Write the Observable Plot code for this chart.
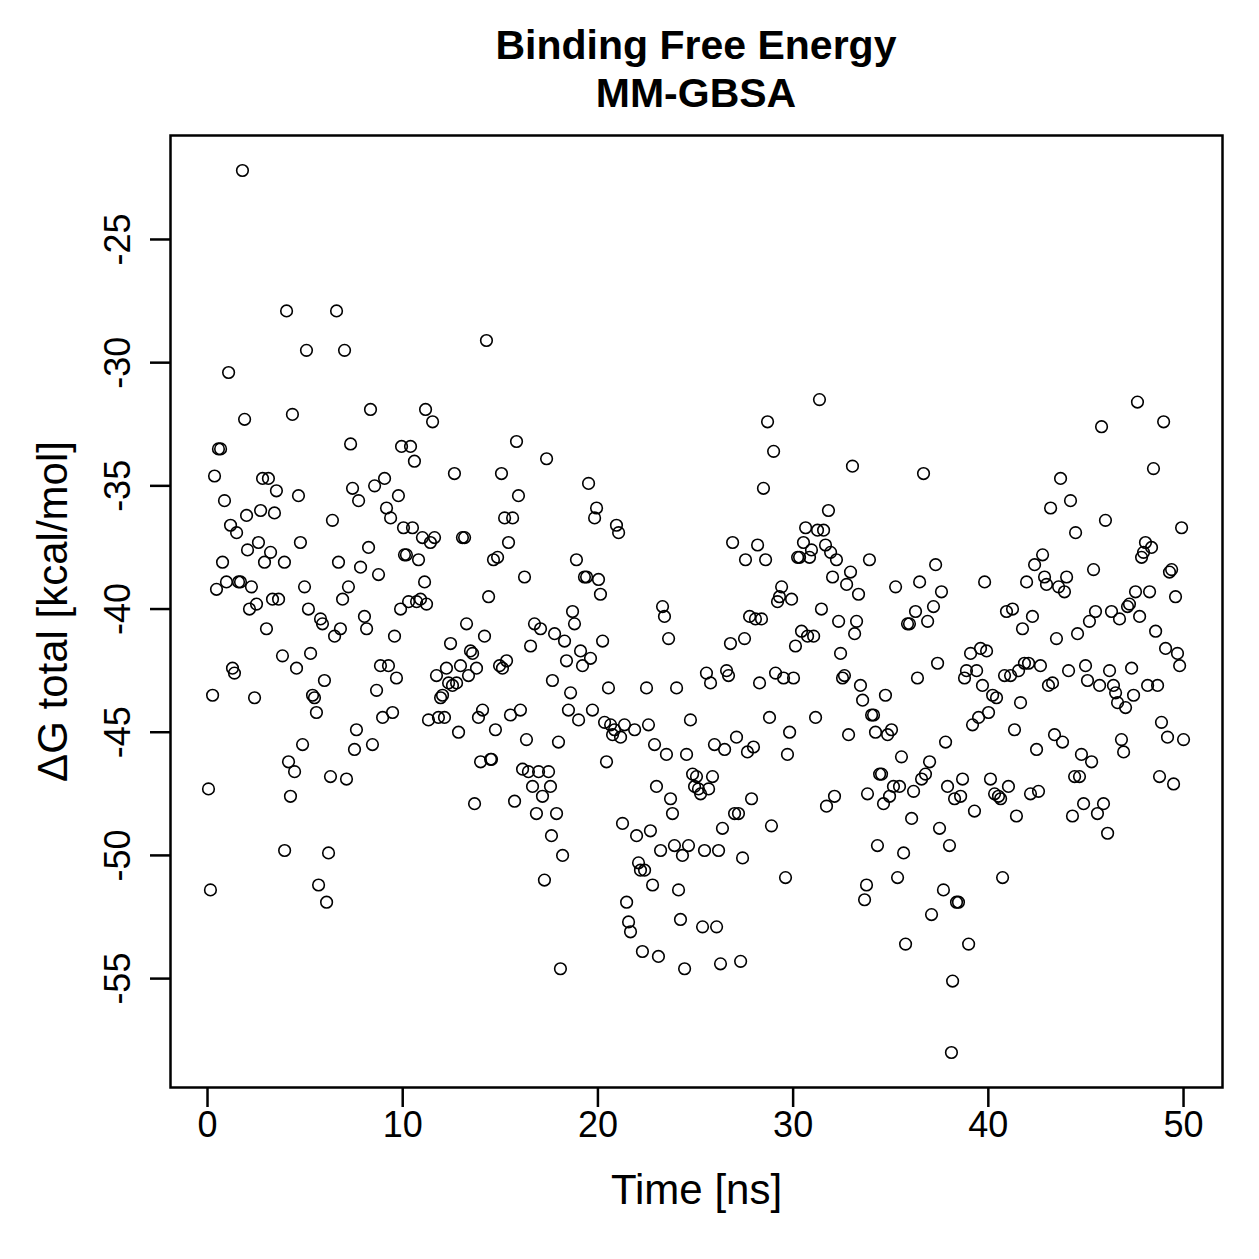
<!DOCTYPE html>
<html><head><meta charset="utf-8">
<script src="https://cdn.jsdelivr.net/npm/d3@7"></script>
<script src="https://cdn.jsdelivr.net/npm/@observablehq/plot@0.6"></script>
<style>
body{margin:0;background:#fff;font-family:"Liberation Sans",Arial,Helvetica,sans-serif;}
#title{width:1052px;margin-left:170px;height:120px;box-sizing:border-box;padding-top:21px;text-align:center;font-weight:bold;font-size:41px;line-height:48px;color:#000;}
</style></head>
<body>
<div id="title">Binding Free Energy<br>MM-GBSA</div>
<div id="chart"></div>
<script>
const time = [0.05,0.15,0.26,0.36,0.46,0.56,0.67,0.77,0.87,0.97,1.08,1.18,1.28,1.38,1.49,1.59,1.69,1.79,1.90,2.00,2.05,2.15,2.25,2.41,2.51,2.61,2.72,2.82,2.92,3.02,3.12,3.23,3.33,3.43,3.53,3.64,3.84,3.94,4.05,3.95,4.15,4.25,4.35,4.46,4.56,4.66,4.76,4.87,4.97,5.07,5.17,5.28,5.38,5.48,5.58,5.69,5.79,5.89,5.99,6.10,6.20,6.30,6.40,6.51,6.61,6.71,6.81,6.92,7.02,7.12,7.22,7.33,7.43,7.53,7.63,7.74,7.84,8.04,8.15,8.25,8.35,8.45,8.56,8.66,8.76,8.86,8.97,9.07,9.17,9.27,9.38,9.48,9.58,9.68,9.78,9.89,9.94,10.04,10.09,10.19,10.30,10.40,10.50,10.60,10.71,10.81,10.91,11.01,11.12,11.17,11.22,11.32,11.42,11.53,11.63,11.73,11.83,11.94,12.04,12.14,12.24,12.35,12.45,12.55,12.65,12.76,12.86,12.96,13.06,13.17,13.27,13.37,13.47,13.58,13.68,13.78,13.88,13.99,14.09,14.19,14.29,14.40,14.50,14.55,14.65,14.75,14.86,14.96,15.06,15.11,15.22,15.32,15.42,15.52,15.63,15.73,15.83,15.93,16.03,16.14,16.24,16.34,16.44,16.55,16.65,16.75,16.85,16.96,17.06,17.16,17.26,17.37,17.47,17.57,17.67,17.62,17.78,17.88,17.98,18.08,18.19,18.29,18.39,18.49,18.60,18.70,18.80,18.90,19.01,19.11,19.21,19.31,19.42,19.52,19.62,19.72,19.83,19.93,20.03,20.13,20.24,20.34,20.44,20.54,20.65,20.75,20.85,20.95,21.06,21.16,21.26,21.36,21.47,21.57,21.67,21.88,21.98,22.08,22.18,22.28,22.39,22.49,22.59,22.69,22.80,22.90,23.00,23.10,23.21,23.31,23.41,23.51,23.62,23.72,23.82,23.92,24.03,24.13,24.23,24.33,24.44,24.54,24.64,24.74,24.85,24.95,25.05,25.15,25.26,25.36,25.46,25.56,25.67,25.77,25.87,25.97,26.08,26.18,26.28,26.38,26.49,26.59,26.69,26.79,26.90,27.00,27.10,27.20,27.31,27.41,27.51,27.56,27.66,27.77,27.87,27.97,28.07,28.18,28.28,28.38,28.48,28.59,28.69,28.79,28.89,29.00,29.10,29.20,29.30,29.41,29.51,29.61,29.71,29.82,29.92,30.02,30.12,30.23,30.33,30.43,30.53,30.64,30.74,30.84,30.94,31.05,31.15,31.25,31.35,31.45,31.56,31.66,31.71,31.81,31.92,32.02,32.12,32.22,32.33,32.43,32.53,32.63,32.74,32.84,32.94,33.04,33.15,33.25,33.35,33.45,33.56,33.66,33.76,33.81,33.91,34.02,34.12,34.22,34.32,34.43,34.53,34.63,34.73,34.84,34.94,35.04,35.14,35.25,35.35,35.45,35.55,35.66,35.76,35.86,35.96,36.07,36.17,36.27,36.37,36.48,36.58,36.68,36.78,36.89,36.99,37.09,37.19,37.30,37.40,37.50,37.60,37.70,37.81,37.91,38.01,38.11,38.17,38.27,38.37,38.47,38.58,38.68,38.78,38.88,38.99,39.09,39.19,39.29,39.40,39.50,39.60,39.70,39.81,39.91,40.01,40.11,40.22,40.32,40.42,40.52,40.63,40.73,40.83,40.93,41.03,41.14,41.24,41.34,41.44,41.55,41.65,41.75,41.85,41.96,42.06,42.16,42.26,42.37,42.47,42.57,42.67,42.78,42.88,42.98,43.08,43.19,43.29,43.39,43.49,43.60,43.70,43.80,43.90,44.01,44.11,44.21,44.31,44.42,44.47,44.57,44.67,44.77,44.88,44.98,45.08,45.18,45.29,45.39,45.49,45.59,45.70,45.80,45.90,46.00,46.11,46.21,46.31,46.41,46.52,46.62,46.72,46.82,46.93,47.03,47.13,47.23,47.34,47.44,47.54,47.64,47.75,47.85,47.95,48.05,48.16,48.26,48.36,48.46,48.57,48.67,48.77,48.87,48.98,49.08,49.18,49.28,49.39,49.49,49.59,49.69,49.80,49.90,50.00];
const dG = [-47.3,-51.4,-43.5,-34.6,-39.2,-33.5,-33.5,-38.1,-35.6,-38.9,-30.4,-36.6,-42.4,-42.6,-36.9,-38.9,-38.9,-22.2,-32.3,-36.2,-37.6,-40.0,-39.1,-43.6,-39.8,-37.3,-36.0,-34.7,-38.1,-40.8,-34.7,-37.7,-39.6,-36.1,-35.2,-39.6,-41.9,-38.1,-27.9,-49.8,-46.2,-47.6,-32.1,-46.6,-42.4,-35.4,-37.3,-45.5,-39.1,-29.5,-40.0,-41.8,-43.5,-43.6,-44.2,-51.2,-40.4,-40.6,-42.9,-51.9,-49.9,-46.8,-36.4,-41.1,-27.9,-38.1,-40.8,-39.6,-29.5,-46.9,-39.1,-33.3,-35.1,-45.7,-44.9,-35.6,-38.3,-40.3,-40.8,-37.5,-31.9,-45.5,-35.0,-43.3,-38.6,-42.3,-44.4,-34.7,-35.9,-42.3,-36.3,-44.2,-41.1,-42.8,-35.4,-40.0,-33.4,-36.7,-37.8,-37.8,-39.7,-33.4,-36.7,-34.0,-39.7,-38.0,-39.6,-37.1,-38.9,-31.9,-39.8,-44.5,-37.3,-32.4,-37.1,-42.7,-44.4,-43.6,-43.5,-44.4,-42.4,-43.0,-41.4,-43.1,-34.5,-43.0,-45.0,-42.3,-37.1,-37.1,-40.6,-42.7,-41.7,-41.8,-47.9,-42.4,-44.4,-46.2,-44.1,-41.1,-29.1,-39.5,-46.1,-46.1,-38.0,-44.9,-37.9,-42.3,-34.5,-42.4,-36.3,-42.1,-37.3,-44.3,-36.3,-47.8,-33.2,-35.4,-44.1,-46.5,-38.7,-45.3,-46.6,-41.5,-47.2,-40.6,-48.3,-46.6,-40.8,-47.6,-51.0,-33.9,-46.6,-47.2,-42.9,-49.2,-41.0,-48.3,-45.4,-54.6,-50.0,-41.3,-42.1,-44.1,-43.4,-40.1,-40.6,-38.0,-44.5,-41.7,-42.3,-38.7,-38.7,-34.9,-42.0,-44.1,-36.3,-35.9,-38.8,-39.4,-41.3,-44.6,-46.2,-43.2,-44.7,-45.1,-44.9,-36.6,-36.9,-45.2,-48.7,-44.7,-51.9,-52.7,-53.1,-44.9,-49.2,-50.3,-50.6,-53.9,-50.6,-43.2,-44.7,-49.0,-51.2,-45.5,-47.2,-54.1,-49.8,-39.9,-40.3,-45.9,-41.2,-47.7,-48.3,-49.6,-43.2,-51.4,-52.6,-50.0,-54.6,-45.9,-49.6,-44.5,-46.7,-47.2,-46.8,-47.3,-47.5,-52.9,-49.8,-42.6,-47.3,-43.0,-46.8,-45.5,-52.9,-49.8,-54.4,-48.9,-45.7,-42.5,-42.7,-41.4,-37.3,-48.3,-45.2,-48.3,-54.3,-50.1,-41.2,-38.0,-45.8,-40.3,-47.7,-45.6,-40.4,-37.4,-43.0,-40.4,-35.1,-38.0,-32.4,-44.4,-48.8,-33.6,-42.6,-39.7,-39.5,-39.1,-42.8,-50.9,-45.9,-45.0,-39.6,-42.8,-41.5,-37.9,-37.9,-40.9,-37.3,-36.7,-41.1,-37.9,-37.6,-41.1,-44.4,-36.8,-31.5,-40.0,-36.8,-37.4,-48.0,-36.0,-37.7,-38.7,-47.6,-38.0,-40.5,-41.8,-42.8,-42.7,-39.0,-45.1,-38.5,-34.2,-41.0,-40.5,-39.4,-43.1,-43.7,-51.8,-51.2,-47.5,-38.0,-44.3,-44.3,-45.0,-49.6,-46.7,-46.7,-47.9,-43.5,-45.1,-47.6,-44.9,-47.2,-39.1,-50.9,-47.2,-46.0,-49.9,-53.6,-40.6,-40.6,-48.5,-47.4,-40.1,-42.8,-38.9,-46.9,-34.5,-46.7,-40.5,-46.2,-52.4,-39.9,-38.2,-42.2,-48.9,-39.3,-51.4,-45.4,-47.2,-49.6,-58.0,-55.1,-47.7,-51.9,-51.9,-47.6,-46.9,-42.8,-42.5,-53.6,-41.8,-44.7,-48.2,-42.5,-44.4,-41.6,-43.1,-38.9,-41.7,-44.2,-46.9,-43.5,-47.5,-43.6,-47.6,-47.7,-50.9,-42.7,-40.1,-47.2,-42.7,-40.0,-44.9,-48.4,-42.5,-43.8,-40.8,-42.2,-38.9,-42.2,-47.5,-40.3,-38.2,-45.7,-47.4,-42.3,-37.8,-38.7,-39.0,-43.1,-35.9,-43.0,-45.1,-41.2,-39.1,-34.7,-45.4,-39.3,-38.7,-42.5,-35.6,-48.4,-46.8,-36.9,-41.0,-46.8,-45.9,-47.9,-42.3,-42.9,-40.5,-46.2,-38.4,-40.1,-48.3,-43.1,-32.6,-47.9,-36.4,-49.1,-42.5,-40.1,-43.1,-43.4,-43.8,-40.4,-45.3,-45.8,-44.0,-39.9,-39.8,-42.4,-43.5,-39.3,-31.6,-40.3,-37.9,-37.7,-37.3,-43.1,-39.3,-37.5,-34.3,-40.9,-43.1,-46.8,-44.6,-32.4,-41.6,-45.2,-38.5,-38.4,-47.1,-39.5,-41.8,-42.3,-36.7,-45.3];
const xTicks = [0, 10, 20, 30, 40, 50];
const yTicks = [-55, -50, -45, -40, -35, -30, -25];
const xLabel = "Time [ns]";
const yLabel = "ΔG total [kcal/mol]";

const data = time.map((t, i) => ({t, g: dG[i]}));
const font = '"Liberation Sans", Arial, Helvetica, sans-serif';

const plot = Plot.plot({
  width: 1259,
  height: 1139,
  marginTop: 15,
  marginBottom: 172,
  marginLeft: 170,
  marginRight: 37,
  style: {fontFamily: font, fontSize: "36px", background: "white", color: "black"},
  x: {domain: [-1.896, 51.996]},
  y: {domain: [-59.42, -20.78]},
  marks: [
    Plot.axisX({ticks: xTicks, tickSize: 20, strokeWidth: 2.5, fill: "none"}),
    Plot.axisY({ticks: yTicks, tickSize: 20, strokeWidth: 2.5, fill: "none"}),
    Plot.text(xTicks, {x: d => d, text: d => String(d), frameAnchor: "bottom", dy: 49, textAnchor: "middle", fontSize: 36, fill: "black"}),
    Plot.text(yTicks, {y: d => d, text: d => String(d), frameAnchor: "left", dx: -52, rotate: -90, textAnchor: "middle", fontSize: 36, fill: "black"}),
    Plot.text([xLabel], {text: d => d, frameAnchor: "bottom", dy: 116, textAnchor: "middle", fontSize: 42, fill: "black"}),
    Plot.text([yLabel], {text: d => d, frameAnchor: "left", dx: -117, rotate: -90, textAnchor: "middle", fontSize: 42, fill: "black"}),
    Plot.dot(data, {x: "t", y: "g", r: 5.8, stroke: "black", strokeWidth: 1.6, fill: "none"}),
    Plot.frame({stroke: "black", strokeWidth: 2.5})
  ]
});
document.getElementById("chart").appendChild(plot);
</script>
</body></html>
